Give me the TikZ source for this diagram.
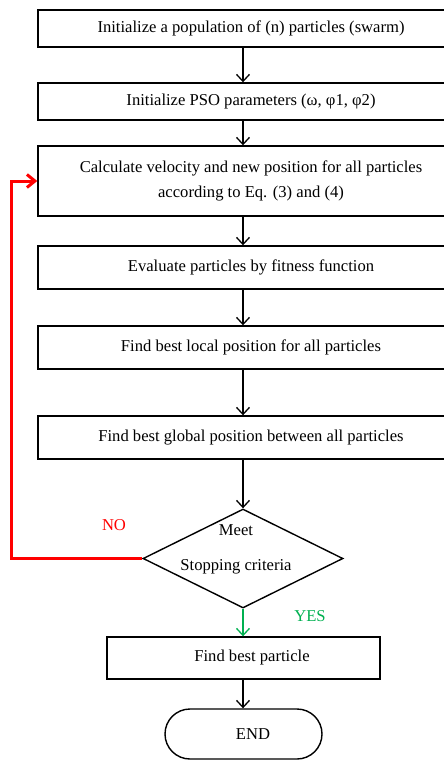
\documentclass[tikz,border=0pt]{standalone}
\usepackage{fontspec}
\setmainfont{Liberation Serif}
\usetikzlibrary{shapes.geometric,arrows.meta}
\definecolor{nored}{RGB}{255,0,0}
\definecolor{yesgreen}{RGB}{0,176,80}
\begin{document}
\begin{tikzpicture}[x=1pt,y=-1pt,
  txt/.style={font=\fontsize{16.6}{25}\selectfont},
  box/.style={txt,draw,line width=1.4pt,inner sep=0pt,align=center},
  wide/.style={box,minimum width=426pt},
  conn/.style={line width=1.3pt,-{Straight Barb[length=7pt,width=13pt]}},
  noline/.style={nored,line width=3pt,-{Straight Barb[length=8pt,width=13pt,line width=3pt]}},
  yesline/.style={conn,yesgreen},
]
\useasboundingbox (0,0) rectangle (444,760);
\clip (0,0) rectangle (444,760);
\coordinate (ax) at (243,0);
\coordinate (loop) at (11,0);

\node[wide,minimum height=37pt] (b1) at (251,28.5) {Initialize a population of (n) particles (swarm)};
\node[wide,minimum height=37pt] (b2) at (251,101.5) {Initialize PSO parameters (ω, φ1, φ2)};
\node[wide,minimum height=70pt] (b3) at (251,181) {Calculate velocity and new position for all particles\\according to Eq. (3) and (4)};
\node[wide,minimum height=43pt] (b4) at (251,267.5) {Evaluate particles by fitness function};
\node[wide,minimum height=43pt] (b5) at (251,347.5) {Find best local position for all particles};
\node[wide,minimum height=43pt] (b6) at (251,437.5) {Find best global position between all particles};

\node[draw,diamond,line width=1.4pt,inner sep=0pt,minimum width=200pt,minimum height=99pt] (d) at (243,558.5) {};
\node[txt] (meet) at (236,530) {Meet};
\node[txt] (stop) at (236,567) {Stopping criteria};

\node[box,minimum width=273pt,minimum height=42pt] (b7) at (243.5,658) {\hspace*{17pt}Find best particle};
\node[box,rounded corners=25pt,minimum width=157pt,minimum height=50pt] (end) at (243.5,734) {\hspace*{19pt}END};

\node[txt,text=nored] (no) at (114,525) {NO};
\node[txt,text=yesgreen] (yes) at (310,616) {YES};

\draw[conn] (b1.south -| ax) -- (b2.north -| ax);
\draw[conn] (b2.south -| ax) -- (b3.north -| ax);
\draw[conn] (b3.south -| ax) -- (b4.north -| ax);
\draw[conn] (b4.south -| ax) -- (b5.north -| ax);
\draw[conn] (b5.south -| ax) -- (b6.north -| ax);
\draw[conn] (b6.south -| ax) -- (d.north);
\draw[yesline] (d.south) -- (b7.north -| d.south);
\draw[conn] (b7.south -| ax) -- (end.north -| ax);
\draw[noline] (d.west) -- (d.west -| loop) |- (b3.west);
\end{tikzpicture}
\end{document}
